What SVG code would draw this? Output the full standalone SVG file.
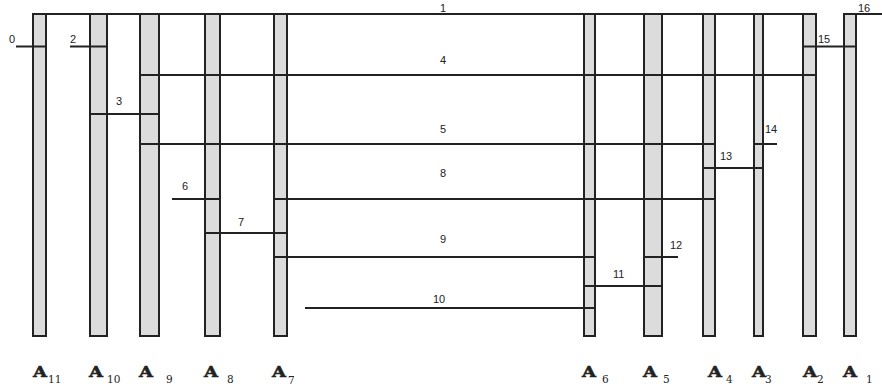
<svg xmlns="http://www.w3.org/2000/svg" width="882" height="390" viewBox="0 0 882 390">
<style>
.bar{fill:#dcdcdc;stroke:#222;stroke-width:2}
.ln{stroke:#222;stroke-width:2;fill:none}
.num{font-family:"Liberation Sans",Arial,sans-serif;font-size:11px;fill:#222}
.mid{text-anchor:middle}
.A{font-family:"DejaVu Serif",serif;font-weight:bold;font-size:14.5px;fill:#222;stroke:#222;stroke-width:0.5}
.sub{font-family:"DejaVu Serif",serif;font-size:10.5px;fill:#222}
</style>
<rect width="882" height="390" fill="#fff"/>
<g id="A11"><rect class="bar" x="33" y="14" width="13" height="322"/><text class="A" x="33" y="377" textLength="14" lengthAdjust="spacingAndGlyphs">A</text><text class="sub" x="48" y="383">11</text></g>
<g id="A10"><rect class="bar" x="90" y="14" width="17" height="322"/><text class="A" x="89" y="377" textLength="14" lengthAdjust="spacingAndGlyphs">A</text><text class="sub" x="107" y="383">10</text></g>
<g id="A9"><rect class="bar" x="140" y="14" width="19" height="322"/><text class="A" x="139" y="377" textLength="14" lengthAdjust="spacingAndGlyphs">A</text><text class="sub" x="166" y="383">9</text></g>
<g id="A8"><rect class="bar" x="205" y="14" width="15" height="322"/><text class="A" x="204" y="377" textLength="14" lengthAdjust="spacingAndGlyphs">A</text><text class="sub" x="227" y="383">8</text></g>
<g id="A7"><rect class="bar" x="274" y="14" width="13" height="322"/><text class="A" x="272" y="377" textLength="14" lengthAdjust="spacingAndGlyphs">A</text><text class="sub" x="288" y="384">7</text></g>
<g id="A6"><rect class="bar" x="584" y="14" width="11" height="322"/><text class="A" x="582" y="377" textLength="14" lengthAdjust="spacingAndGlyphs">A</text><text class="sub" x="602" y="383">6</text></g>
<g id="A5"><rect class="bar" x="644" y="14" width="18" height="322"/><text class="A" x="643" y="377" textLength="14" lengthAdjust="spacingAndGlyphs">A</text><text class="sub" x="663" y="383">5</text></g>
<g id="A4"><rect class="bar" x="703" y="14" width="12" height="322"/><text class="A" x="708" y="377" textLength="14" lengthAdjust="spacingAndGlyphs">A</text><text class="sub" x="726" y="383">4</text></g>
<g id="A3"><rect class="bar" x="754" y="14" width="9" height="322"/><text class="A" x="752" y="377" textLength="14" lengthAdjust="spacingAndGlyphs">A</text><text class="sub" x="765" y="383">3</text></g>
<g id="A2"><rect class="bar" x="803" y="14" width="13" height="322"/><text class="A" x="803" y="377" textLength="14" lengthAdjust="spacingAndGlyphs">A</text><text class="sub" x="817" y="383">2</text></g>
<g id="A1"><rect class="bar" x="844" y="14" width="12" height="322"/><text class="A" x="843" y="377" textLength="14" lengthAdjust="spacingAndGlyphs">A</text><text class="sub" x="866" y="383">1</text></g>
<g id="connectors">
<line class="ln" x1="32" y1="14" x2="817" y2="14"/><text class="num mid" x="443" y="12">1</text>
<line class="ln" x1="856" y1="14" x2="882" y2="14"/><text class="num" x="858" y="12">16</text>
<line class="ln" x1="16" y1="46.5" x2="46" y2="46.5"/><text class="num" x="9" y="43">0</text>
<line class="ln" x1="70" y1="46.5" x2="107" y2="46.5"/><text class="num" x="70" y="43">2</text>
<line class="ln" x1="803" y1="46.5" x2="856" y2="46.5"/><text class="num" x="818" y="43">15</text>
<line class="ln" x1="140" y1="75" x2="816" y2="75"/><text class="num mid" x="443" y="64">4</text>
<line class="ln" x1="90" y1="114" x2="159" y2="114"/><text class="num" x="116" y="105">3</text>
<line class="ln" x1="140" y1="144" x2="715" y2="144"/><text class="num mid" x="443" y="133">5</text>
<line class="ln" x1="754" y1="144" x2="777" y2="144"/><text class="num" x="765" y="133">14</text>
<line class="ln" x1="703" y1="168" x2="763" y2="168"/><text class="num" x="720" y="160">13</text>
<line class="ln" x1="172" y1="199" x2="220" y2="199"/><text class="num" x="182" y="190">6</text>
<line class="ln" x1="274" y1="199" x2="715" y2="199"/><text class="num mid" x="443" y="177">8</text>
<line class="ln" x1="205" y1="233" x2="287" y2="233"/><text class="num" x="238" y="226">7</text>
<line class="ln" x1="274" y1="257" x2="595" y2="257"/><text class="num mid" x="443" y="243">9</text>
<line class="ln" x1="644" y1="257" x2="678" y2="257"/><text class="num" x="670" y="249">12</text>
<line class="ln" x1="584" y1="286" x2="662" y2="286"/><text class="num" x="613" y="278">11</text>
<line class="ln" x1="305" y1="308" x2="595" y2="308"/><text class="num mid" x="439" y="303">10</text>
</g>
</svg>
